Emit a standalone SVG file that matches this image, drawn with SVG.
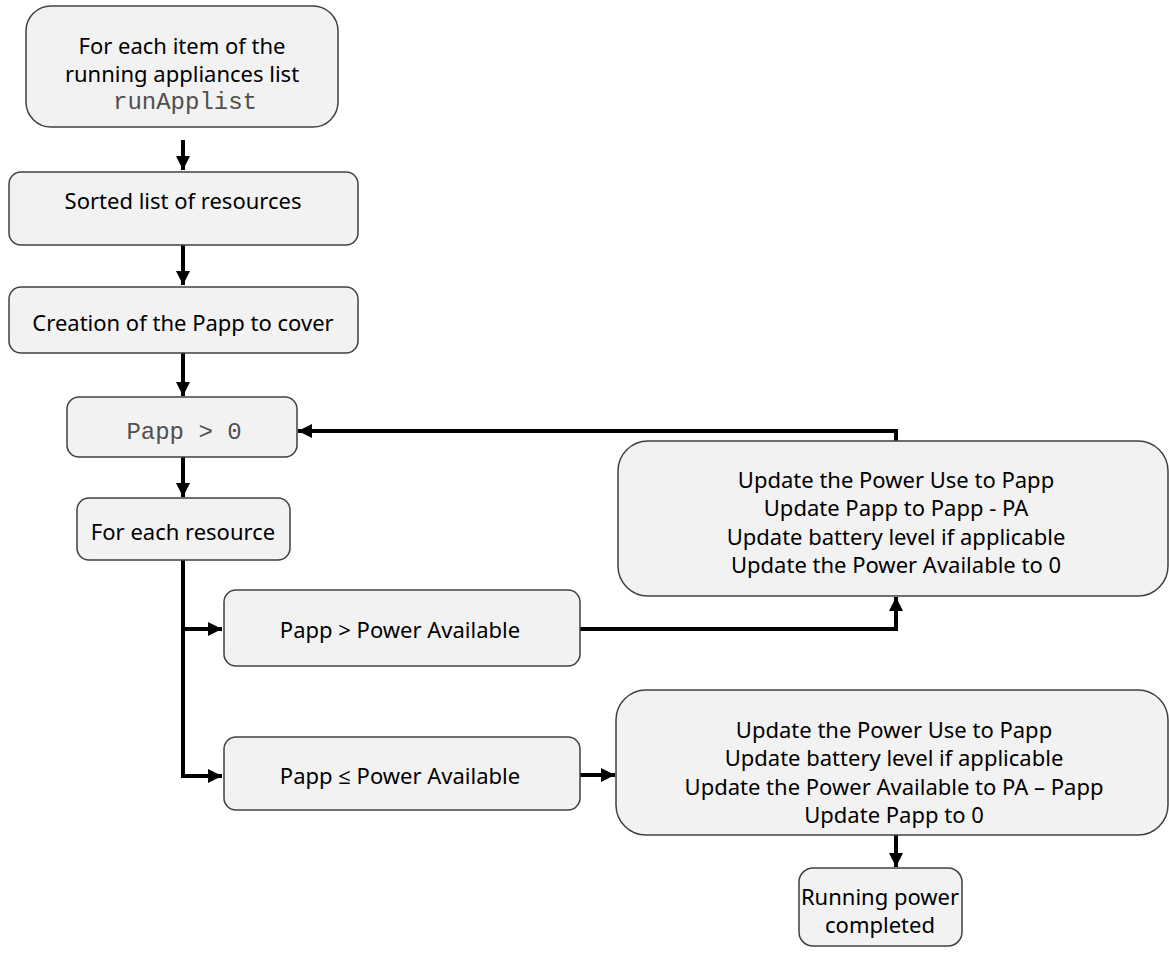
<svg xmlns="http://www.w3.org/2000/svg" width="1169" height="956" viewBox="0 0 1169 956">
<defs>
<marker id="ah" markerUnits="userSpaceOnUse" markerWidth="16" markerHeight="16" refX="14" refY="7" orient="auto">
<path d="M0,0 L14,7 L0,14 Z" fill="#000"/>
</marker>
<style>
.box{fill:#f2f2f2;stroke:#404040;stroke-width:1.5}
.t{font-family:"Noto Sans","Open Sans",sans-serif;font-size:22px;fill:#000;text-anchor:middle;dominant-baseline:central}
.m{font-family:"Liberation Mono","DejaVu Sans Mono",monospace;font-size:24px;fill:#505050;text-anchor:middle;dominant-baseline:central}
.c{fill:none;stroke:#000;stroke-width:4}
</style>
</defs>
<rect width="1169" height="956" fill="#fff"/>
<g id="connectors">
<path class="c" d="M183,140 L183,170" marker-end="url(#ah)"/>
<path class="c" d="M183,245 L183,285" marker-end="url(#ah)"/>
<path class="c" d="M183,353 L183,396" marker-end="url(#ah)"/>
<path class="c" d="M183,457 L183,497" marker-end="url(#ah)"/>
<path class="c" d="M183,560 L183,776 L222,776" marker-end="url(#ah)"/>
<path class="c" d="M183,629 L222,629" marker-end="url(#ah)"/>
<path class="c" d="M580,629 L896,629 L896,597" marker-end="url(#ah)"/>
<path class="c" d="M896,441 L896,431 L298,431" marker-end="url(#ah)"/>
<path class="c" d="M580,775 L615,775" marker-end="url(#ah)"/>
<path class="c" d="M896,835 L896,867" marker-end="url(#ah)"/>
</g>
<g id="n1"><rect class="box" x="26" y="6" width="312" height="121" rx="25"/>
<text class="t" x="182" y="45">For each item of the</text>
<text class="t" x="182" y="73">running appliances list</text>
<text class="m" x="185" y="102">runApplist</text></g>
<g id="n2"><rect class="box" x="9" y="172" width="349" height="73" rx="12"/>
<text class="t" x="183" y="200">Sorted list of resources</text></g>
<g id="n3"><rect class="box" x="9" y="287" width="349" height="66" rx="12"/>
<text class="t" x="183" y="322">Creation of the Papp to cover</text></g>
<g id="n4"><rect class="box" x="67" y="397" width="230" height="60" rx="12"/>
<text class="m" x="184" y="432">Papp &gt; 0</text></g>
<g id="n5"><rect class="box" x="77" y="498" width="213" height="62" rx="12"/>
<text class="t" x="183" y="531">For each resource</text></g>
<g id="n6"><rect class="box" x="224" y="590" width="356" height="76" rx="12"/>
<text class="t" x="400" y="629">Papp &gt; Power Available</text></g>
<g id="n7"><rect class="box" x="224" y="737" width="356" height="73" rx="12"/>
<text class="t" x="400" y="775">Papp ≤ Power Available</text></g>
<g id="n8"><rect class="box" x="618" y="441" width="550" height="155" rx="30"/>
<text class="t" x="896" y="479">Update the Power Use to Papp</text>
<text class="t" x="896" y="507">Update Papp to Papp - PA</text>
<text class="t" x="896" y="536">Update battery level if applicable</text>
<text class="t" x="896" y="564">Update the Power Available to 0</text></g>
<g id="n9"><rect class="box" x="616" y="690" width="552" height="145" rx="30"/>
<text class="t" x="894" y="729">Update the Power Use to Papp</text>
<text class="t" x="894" y="757">Update battery level if applicable</text>
<text class="t" x="894" y="786">Update the Power Available to PA – Papp</text>
<text class="t" x="894" y="814">Update Papp to 0</text></g>
<g id="n10"><rect class="box" x="799" y="868" width="163" height="78" rx="14"/>
<text class="t" x="880" y="896">Running power</text>
<text class="t" x="880" y="924">completed</text></g>
</svg>
